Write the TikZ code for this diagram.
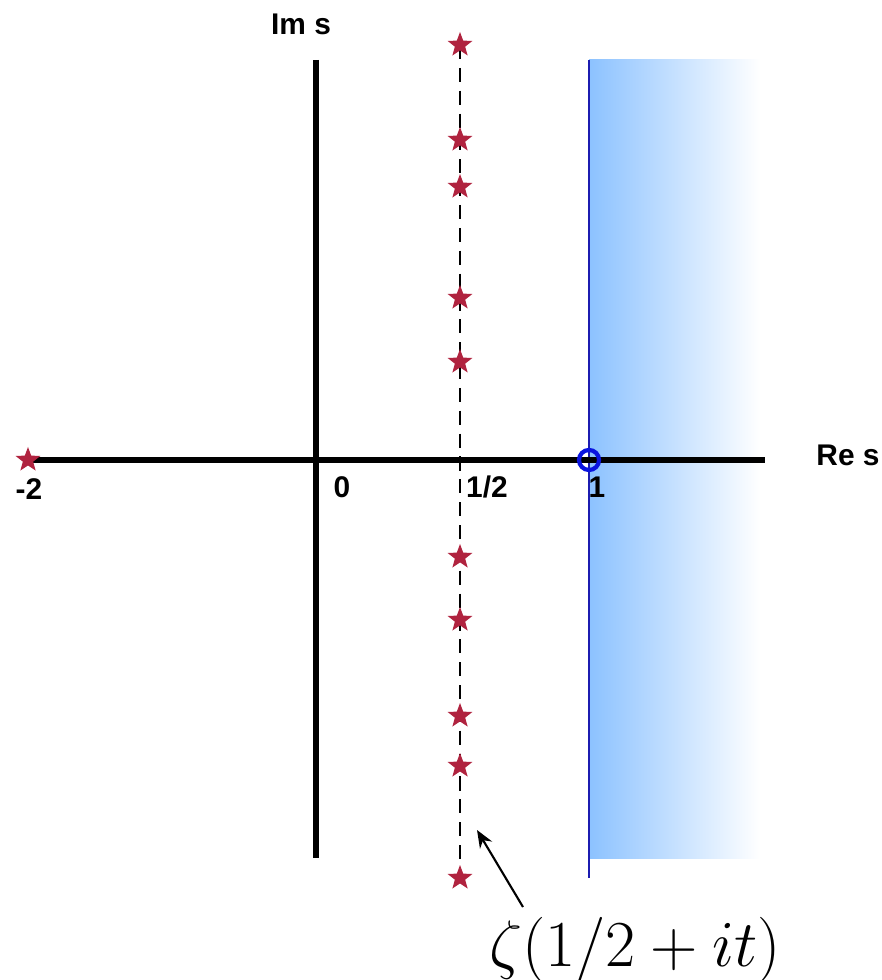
\documentclass[tikz,border=0pt]{standalone}
\usepackage{fontspec}
\setsansfont{Liberation Sans}
\usetikzlibrary{arrows.meta,calc,positioning,shapes.geometric}
\definecolor{ZeroRed}{HTML}{B0233F}
\definecolor{LineBlue}{HTML}{1C1CB0}
\definecolor{RingBlue}{HTML}{0A14E0}
\definecolor{FillBlue}{HTML}{8CC2FF}

\begin{document}
\begin{tikzpicture}[x=0.01cm,y=-0.01cm,
    zero/.style={star,star points=5,star point ratio=2.4,fill=ZeroRed,
      inner sep=0pt,minimum size=0.26cm},
    axislabel/.style={font=\sffamily\bfseries\fontsize{8.5}{10}\selectfont}]
  \useasboundingbox (0,0) rectangle (881,980);

  % half plane of convergence
  \shade[left color=FillBlue,right color=white] (589,60) rectangle (760,858);
  \coordinate (bt) at (589,60);
  \coordinate (bb) at (589,878);
  \draw[LineBlue,line width=0.6pt] (bt)--(bb);

  % axes
  \coordinate (xl) at (28,460);
  \coordinate (xr) at (765,460);
  \coordinate (yt) at (316,60);
  \coordinate (yb) at (316,858);
  \draw[line width=1.5pt] (xl)--(xr);
  \draw[line width=1.5pt] (yt)--(yb);
  \node[axislabel] (re) at (848,455) {Re s};
  \node[axislabel] (im) at (301,24) {Im s};

  % critical line
  \coordinate (ct) at (460,45);
  \coordinate (cb) at (460,878);
  \draw[dashed,line width=0.5pt,dash pattern=on 4pt off 2.5pt] (ct)--(cb);

  % zeros
  \foreach \y [count=\i] in {45,140,187,298,362,557,620,716,766,878}
    \node[zero] (z\i) at (460,\y) {};
  \node[zero] (ztriv) at (28,460) {};

  % pole at s=1
  \draw[RingBlue,line width=1.2pt] (589,460) circle (0.1cm);

  % ticks
  \node[axislabel] (tm2) at (29,489) {-2};
  \node[axislabel] (t0) at (342,487) {0};
  \node[axislabel] (th) at (487,487) {1/2};
  \node[axislabel] (t1) at (597,487) {1};

  % label of the critical line
  \node (zeta) at (635,950) {\scalebox{1.08}{\fontsize{16}{18}\selectfont$\zeta(1/2+it)$}};
  \coordinate (tail) at (523,907);
  \coordinate (head) at (477,830);
  \draw[-{Stealth[length=5pt,width=4pt]},line width=0.6pt] (tail)--(head);
\end{tikzpicture}
\end{document}
